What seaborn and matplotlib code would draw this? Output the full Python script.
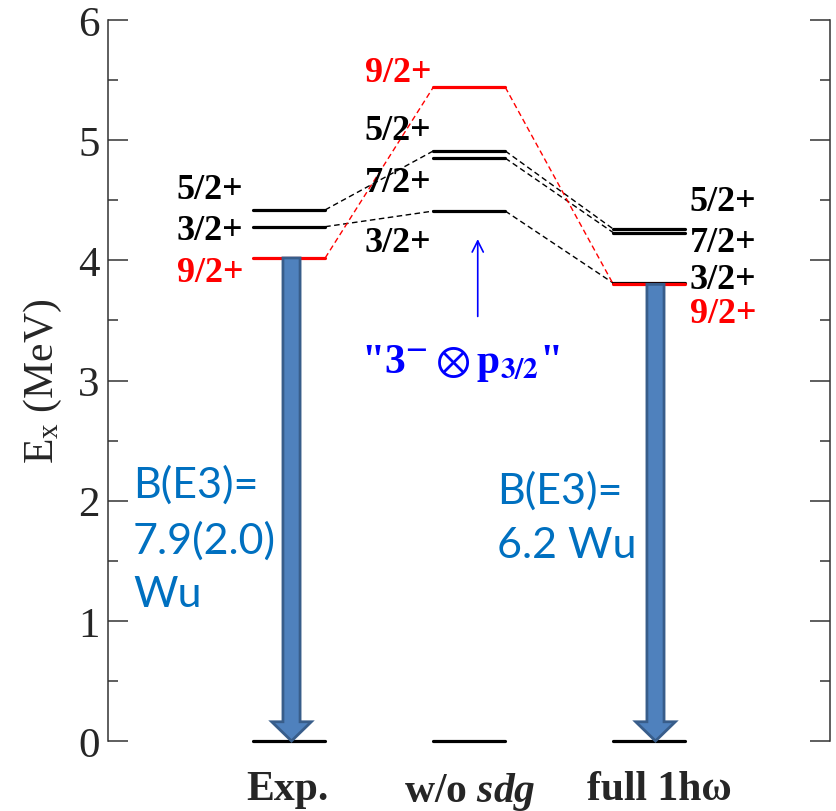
import pandas as pd
import seaborn as sns
import matplotlib.pyplot as plt
from matplotlib.patches import FancyArrow

# level energies (MeV)
columns = ["Exp.", "w/o $sdg$", "full 1hω"]
exp_spins = ["5/2+", "3/2+", "9/2+"]
exp_energy = [4.42, 4.28, 4.02]
wo_spins = ["9/2+", "5/2+", "7/2+", "3/2+"]
wo_energy = [5.44, 4.91, 4.85, 4.41]
full_spins = ["5/2+", "7/2+", "3/2+", "9/2+"]
full_energy = [4.26, 4.23, 3.81, 3.80]
be3_text = ["B(E3)=\n7.9(2.0)\nWu", "B(E3)=\n6.2 Wu"]

# label placement (energy axis) for each level label
exp_label_y = [4.59, 4.245, 3.90]
wo_label_y = [5.565, 5.08, 4.65, 4.15]
full_label_y = [4.49, 4.15, 3.84, 3.56]

sns.set_style("ticks")
plt.rcParams['font.family'] = ['Liberation Serif', 'DejaVu Serif']
plt.rcParams['mathtext.fontset'] = 'custom'
plt.rcParams['mathtext.rm'] = 'Liberation Serif'
plt.rcParams['mathtext.it'] = 'Liberation Serif:italic:bold'
plt.rcParams['mathtext.bf'] = 'Liberation Serif:bold'

fig = plt.figure(figsize=(8.36, 8.12), dpi=100)
ax = fig.add_axes([108/836, 70/812, 722/836, 721/812])

half = 0.2
sets = [(exp_spins, exp_energy), (wo_spins, wo_energy), (full_spins, full_energy)]

# levels
rows = []
for col, (spins, energy) in enumerate(sets):
    for s, e in zip(spins + ["0"], energy + [0.0]):
        kind = "red" if s == "9/2+" else "black"
        for x in (col - half, col + half):
            rows.append({"x": x, "E": e, "id": f"{col}-{s}", "kind": kind})
levels = pd.DataFrame(rows)

# dashed connectors between neighbouring columns
rows = []
for col in range(2):
    s1, e1 = sets[col]
    s2, e2 = sets[col + 1]
    for s, e in zip(s1, e1):
        if s in s2:
            kind = "red" if s == "9/2+" else "black"
            rows.append({"x": col + half, "E": e, "id": f"{col}-{s}", "kind": kind})
            rows.append({"x": col + 1 - half, "E": e2[s2.index(s)], "id": f"{col}-{s}", "kind": kind})
links = pd.DataFrame(rows)

pal = {"black": "black", "red": "red"}
sns.lineplot(data=links, x="x", y="E", units="id", estimator=None, hue="kind",
             hue_order=["black", "red"], palette=pal, sort=False, legend=False,
             lw=1.0, ls=(0, (4, 2.5)), ax=ax)
sns.lineplot(data=levels, x="x", y="E", units="id", estimator=None, hue="kind",
             hue_order=["black", "red"], palette=pal, sort=False, legend=False,
             lw=2.3, clip_on=False, ax=ax)

# level labels
lab_kw = dict(fontsize=26, fontweight="bold", va="center")
for s, y in zip(exp_spins, exp_label_y):
    ax.text(-0.255, y, s, ha="right", color="red" if s == "9/2+" else "black", **lab_kw)
for s, y in zip(wo_spins, wo_label_y):
    ax.text(0.79, y, s, ha="right", color="red" if s == "9/2+" else "black", **lab_kw)
for s, y in zip(full_spins, full_label_y):
    ax.text(2.225, y, s, ha="left", color="red" if s == "9/2+" else "black", **lab_kw)

# E3 transitions
for x0, e0 in [(0.013, exp_energy[2]), (2.034, full_energy[3])]:
    ax.add_patch(FancyArrow(x0, e0, 0, -e0, width=0.095, head_width=0.22,
                            head_length=0.16, length_includes_head=True,
                            fc="#4F81BD", ec="#385D8A", lw=2.0, zorder=3, clip_on=False))

be_kw = dict(fontsize=31, color="#0070C0", va="top", ha="left", linespacing=1.5,
             family=["Lato", "DejaVu Sans"])
ax.text(-0.867, 2.30, be3_text[0], **be_kw)
ax.text(1.153, 2.25, be3_text[1], **be_kw)

# octupole-coupled multiplet annotation
ax.annotate("", xy=(1.047, 4.20), xytext=(1.047, 3.51),
            arrowprops=dict(arrowstyle="->", color="blue", lw=1.2, mutation_scale=20))
ax.text(0.953, 3.07, '"3$^{\\mathbf{-}}\\otimes$p$_{\\mathbf{3/2}}$"', color="blue",
        fontsize=30, fontweight="bold", ha="center", va="baseline",
        math_fontfamily="stix")

ax.set_xlim(-1.006, 3.003)
ax.set_ylim(0, 6)
ax.set_yticks(range(7))
ax.set_yticks([i + 0.5 for i in range(6)], minor=True)
ax.set_xticks([-0.011, 1.003, 2.053])
ax.set_xticklabels(columns, fontsize=30, fontweight="bold")
ax.tick_params(axis="x", length=0, pad=21)
ax.tick_params(axis="y", which="both", direction="in", right=True, labelsize=31,
               width=1.1, color="#333333", pad=6)
ax.tick_params(axis="y", which="major", length=14.5)
ax.tick_params(axis="y", which="minor", length=7.2)
ax.set_ylabel("E$_\\mathrm{x}$ (MeV)", fontsize=30, labelpad=10)
ax.set_xlabel("")
for side in ["top", "bottom"]:
    ax.spines[side].set_visible(False)
for side in ["left", "right"]:
    ax.spines[side].set_color("#333333")
    ax.spines[side].set_linewidth(1.1)

fig.savefig("out.png", dpi=100)
